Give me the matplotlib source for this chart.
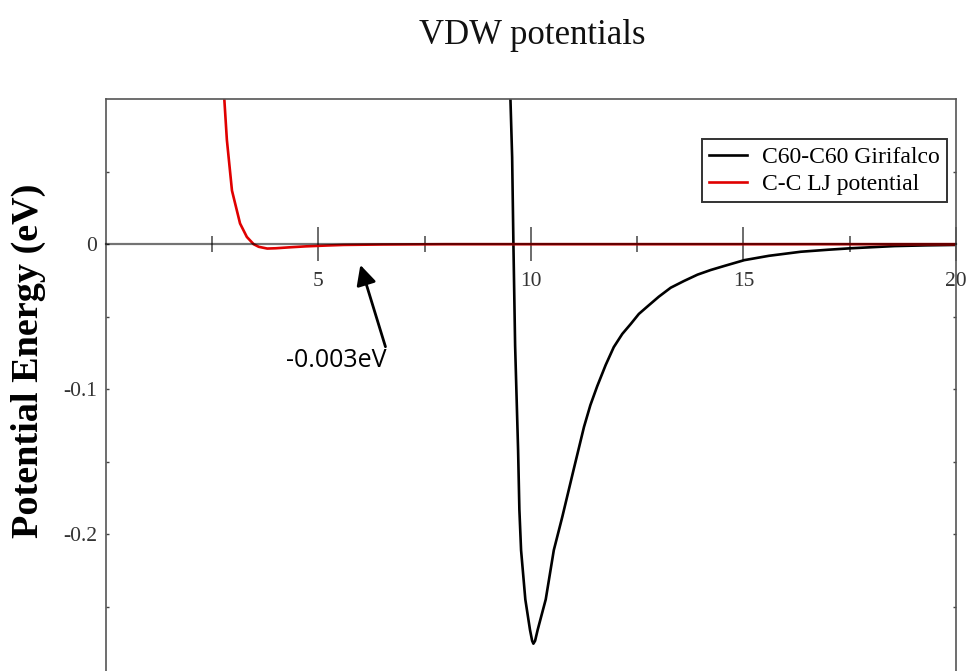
import matplotlib
matplotlib.use("Agg")
import matplotlib.pyplot as plt
from matplotlib.ticker import FixedLocator

# C60-C60 Girifalco potential (distance in Angstrom, energy in eV)
gir_r = [9.52, 9.56, 9.59, 9.63, 9.70, 9.73, 9.77, 9.87, 9.98, 10.03, 10.06,
         10.10, 10.16, 10.35, 10.54, 10.74, 11.01, 11.25, 11.40, 11.56, 11.76,
         11.95, 12.15, 12.35, 12.54, 12.74, 13.01, 13.29, 13.60, 13.92, 14.23,
         14.55, 15.02, 15.60, 16.35, 17.00, 17.53, 18.55, 19.30, 20.00]
gir_e = [0.100, 0.060, 0.000, -0.070, -0.142, -0.183, -0.211, -0.245, -0.266,
         -0.2735, -0.2755, -0.2735, -0.266, -0.245, -0.211, -0.188, -0.155,
         -0.126, -0.111, -0.098, -0.0833, -0.071, -0.0619, -0.055, -0.0481,
         -0.043, -0.0362, -0.030, -0.0254, -0.021, -0.0178, -0.015, -0.011,
         -0.008, -0.0052, -0.0038, -0.0028, -0.0013, -0.0008, -0.0005]

# C-C Lennard-Jones potential
lj_r = [2.79, 2.85, 2.97, 3.16, 3.32, 3.48, 3.60, 3.80, 4.00, 4.30, 4.70,
        5.20, 5.60, 6.50, 8.00, 12.00, 16.00, 20.00]
lj_e = [0.100, 0.072, 0.037, 0.0143, 0.005, 0.000, -0.0018, -0.003, -0.0028,
        -0.0022, -0.0015, -0.0009, -0.0005, -0.0002, 0.0, 0.0, 0.0, 0.0]

series_labels = ["C60-C60 Girifalco", "C-C LJ potential"]
x_major = [5, 10, 15, 20]
x_minor = [2.5, 7.5, 12.5, 17.5]
y_major = [0.0, -0.1, -0.2]
y_minor = [0.05, -0.05, -0.15, -0.25]
y_ticklabels = ["0", "-0.1", "-0.2"]

note_text = "-0.003eV"
note_xy = (5.42, -0.0845)
arrow_tail = (6.58, -0.0707)
arrow_head = (5.99, -0.0143)

W, H = 971, 671
fig = plt.figure(figsize=(W / 100, H / 100), dpi=100)
fig.patch.set_facecolor("white")

serif = ["Liberation Serif", "DejaVu Serif"]

left_px, right_px, top_px, bottom_px = 105.7, 956.0, 99.2, 679.2
ax = fig.add_axes([left_px / W, (H - bottom_px) / H,
                   (right_px - left_px) / W, (bottom_px - top_px) / H])

ax.plot(gir_r, gir_e, color="black", lw=1.9, zorder=2, label=series_labels[0],
        solid_joinstyle="round")
ax.plot(lj_r, lj_e, color="#e00000", lw=1.9, zorder=2.1, label=series_labels[1],
        solid_joinstyle="round")

ax.set_xlim(0, 20)
ax.set_ylim(-0.3, 0.1)

spine_col = "#555555"
for s in ("left", "top", "right"):
    ax.spines[s].set_color(spine_col)
    ax.spines[s].set_linewidth(1.2)
ax.spines["bottom"].set_position(("data", 0))
ax.spines["bottom"].set_color((0, 0, 0, 0.55))
ax.spines["bottom"].set_linewidth(1.6)
ax.spines["bottom"].set_zorder(2.5)

ax.xaxis.set_major_locator(FixedLocator(x_major))
ax.xaxis.set_minor_locator(FixedLocator(x_minor))
ax.yaxis.set_major_locator(FixedLocator(y_major))
ax.yaxis.set_minor_locator(FixedLocator(y_minor))
ax.set_yticklabels(y_ticklabels)

ax.tick_params(axis="x", which="major", direction="inout", length=24, width=1.1,
               color="#444444", labelsize=15.5, labelcolor="#333333", pad=8)
ax.tick_params(axis="x", which="minor", direction="inout", length=11.5, width=1.1,
               color="#444444")
ax.tick_params(axis="y", which="both", direction="in", length=2.5, width=1.0,
               color="#444444", left=True, right=True)
ax.tick_params(axis="y", which="major", labelsize=15.5, labelcolor="#333333", pad=6)
for lab in ax.get_xticklabels() + ax.get_yticklabels():
    lab.set_family(serif)

leg = ax.legend(loc="upper right", bbox_to_anchor=(946.7 / W, 1 - 139.3 / H),
                bbox_transform=fig.transFigure, prop={"family": serif, "size": 17},
                frameon=True, fancybox=False, shadow=False, borderpad=0.3,
                labelspacing=0.25, handlelength=1.6, handletextpad=0.65,
                borderaxespad=0)
leg.get_frame().set_edgecolor("black")
leg.get_frame().set_linewidth(1.4)
leg.set_zorder(5)

ax.annotate("", xy=arrow_head, xytext=arrow_tail,
            arrowprops=dict(arrowstyle="-|>,head_length=0.6,head_width=0.3",
                            color="black", lw=2, mutation_scale=20,
                            shrinkA=0, shrinkB=0), zorder=6)
ax.text(note_xy[0], note_xy[1], note_text, ha="center", va="baseline",
        fontsize=18, family=["Open Sans", "DejaVu Sans"], color="black", zorder=6)

fig.text(532.5 / W, 1 - 43.5 / H, "VDW potentials", ha="center", va="baseline",
         fontsize=25, family=serif, color="#111111")
fig.text(28 / W, 1 - 361 / H, "Potential Energy (eV)", ha="center", va="center",
         rotation=90, fontsize=27.5, fontweight="bold", family=serif, color="black")

fig.savefig("out.png", dpi=100, facecolor="white")
